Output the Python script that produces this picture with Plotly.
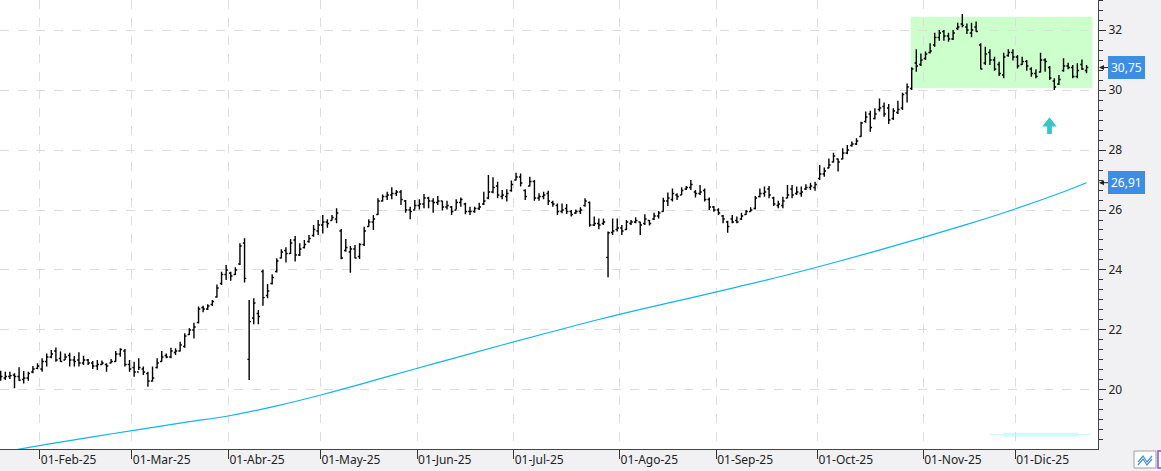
import plotly.graph_objects as go
import pandas as pd

# ---------------- data ----------------
dates = pd.bdate_range("2025-01-21", "2025-12-22", freq="C",
                       holidays=["2025-04-18", "2025-04-21", "2025-05-01"])

opens = [20.55, 20.40, 20.45, 20.50, 20.45, 20.35, 20.40, 20.60, 20.72, 20.70,
         20.95, 21.10, 21.30, 21.05, 21.00, 21.15, 21.00, 21.00, 20.90, 21.00,
         20.90, 20.80, 20.85, 20.85, 20.90, 20.95, 21.20, 21.30, 20.85,
         20.75, 20.60, 20.70, 20.55, 20.30, 20.75, 20.95, 21.15, 21.10, 21.25,
         21.30, 21.45, 21.85, 22.00, 22.25, 22.75, 22.70, 22.85, 23.10, 23.55, 23.85,
         23.90, 23.85, 24.20, 24.90, 21.02, 22.40, 22.55, 23.95, 23.15, 23.55,
         23.95, 24.40, 24.65, 24.55, 25.00, 24.50, 24.75, 24.95, 25.15, 25.30,
         25.50, 25.60, 25.65, 25.70, 25.30, 24.65, 24.60, 24.70, 24.45, 24.85,
         25.45, 25.60, 25.85, 26.30, 26.45, 26.50, 26.55, 26.60, 26.30, 26.00, 26.00,
         26.15, 26.20, 26.40, 26.30, 26.25, 26.30, 26.10, 26.10, 26.00, 26.25,
         26.20, 25.95, 25.95, 26.05, 26.20, 26.40, 26.60, 26.80, 26.45, 26.45, 26.65,
         27.00, 27.10, 26.65, 26.80, 26.95, 26.40, 26.45, 26.55, 26.25, 26.15,
         25.95, 26.05, 25.95, 25.90, 25.95, 26.15, 26.25, 25.50, 25.55, 25.55,
         24.42, 25.25, 25.35,
         25.40, 25.35, 25.55, 25.60, 25.60, 25.55, 25.65, 25.70, 25.80, 25.95,
         26.30, 26.35, 26.50, 26.50, 26.70, 26.75, 26.60, 26.55, 26.65, 26.35, 26.10,
         26.00, 25.80, 25.60, 25.70, 25.65, 25.70, 25.85, 25.95, 26.05, 26.45,
         26.55, 26.70, 26.40, 26.15, 26.15, 26.40, 26.70, 26.55, 26.55, 26.70,
         26.75, 26.75,
         27.05, 27.20, 27.40, 27.60, 27.70, 27.70, 27.90, 28.15, 28.20, 28.45,
         28.95, 29.20, 29.05, 29.35, 29.45, 29.40, 29.05, 29.25, 29.40, 29.90,
         30.05, 30.90, 30.85,
         31.05, 31.25, 31.50, 31.75, 31.95, 31.80, 31.70, 32.05, 32.20, 32.10,
         31.90, 32.10, 31.50, 30.90, 31.25, 31.00, 30.85, 30.50, 31.15, 31.25,
         31.10, 30.85, 30.95, 30.70, 30.55, 30.60, 31.00, 30.75, 30.30, 30.20,
         30.65, 30.80, 30.75, 30.45, 30.85, 30.65]

highs = [20.64, 20.61, 20.61, 20.56, 20.76, 20.63, 20.61, 20.80, 20.89, 21.06,
         21.22, 21.33, 21.42, 21.28, 21.22, 21.24, 21.13, 21.26, 21.14, 21.03,
         20.97, 21.00, 20.98, 20.89, 21.03, 21.30, 21.39, 21.37, 21.00,
         20.94, 21.06, 20.78, 20.61, 20.78, 21.06, 21.30, 21.22, 21.41, 21.39,
         21.61, 21.89, 22.06, 22.24, 22.78, 22.81, 22.86, 23.00, 23.52, 23.94, 24.17,
         23.94, 24.09, 24.89, 25.06, 23.00, 23.06, 22.67, 24.02, 23.53, 23.86,
         24.39, 24.69, 24.76, 25.03, 25.13, 24.89, 25.00, 25.17, 25.50, 25.67,
         25.83, 25.69, 25.83, 26.06, 25.37, 25.03, 24.80, 24.83, 24.89, 25.44,
         25.69, 25.83, 26.39, 26.52, 26.61, 26.76, 26.67, 26.67, 26.33, 26.11, 26.33,
         26.36, 26.53, 26.44, 26.39, 26.47, 26.31, 26.31, 26.13, 26.36, 26.42,
         26.24, 26.11, 26.11, 26.24, 26.61, 27.17, 27.09, 26.94, 26.67, 26.69, 26.98,
         27.24, 27.22, 26.69, 27.11, 27.00, 26.56, 26.61, 26.64, 26.31, 26.22,
         26.22, 26.20, 26.00, 26.02, 26.09, 26.39, 26.28, 25.78, 25.72, 25.72,
         25.28, 25.72, 25.72,
         25.50, 25.67, 25.67, 25.76, 25.61, 25.86, 25.67, 25.91, 25.97, 26.41,
         26.58, 26.72, 26.56, 26.76, 26.80, 27.00, 26.67, 26.83, 26.72, 26.42, 26.13,
         26.06, 25.83, 25.64, 25.83, 25.78, 25.91, 26.00, 26.09, 26.47, 26.72,
         26.78, 26.80, 26.44, 26.31, 26.44, 26.83, 26.83, 26.78, 26.78, 26.86,
         26.91, 26.94,
         27.50, 27.42, 27.72, 27.91, 27.72, 28.06, 28.17, 28.28, 28.39, 28.94,
         29.28, 29.31, 29.39, 29.72, 29.58, 29.53, 29.39, 29.64, 29.91, 30.22,
         30.76, 31.36, 31.22,
         31.28, 31.56, 31.91, 32.00, 32.00, 31.91, 32.00, 32.24, 32.53, 32.22,
         32.24, 32.28, 31.56, 31.44, 31.36, 31.11, 30.94, 31.24, 31.36, 31.36,
         31.17, 31.11, 31.00, 30.76, 30.69, 31.24, 31.06, 30.80, 30.39, 30.50,
         31.06, 30.91, 30.83, 30.89, 31.02, 30.83]

lows = [20.31, 20.33, 20.37, 20.06, 20.30, 20.22, 20.31, 20.56, 20.69, 20.61,
        20.78, 21.06, 20.94, 20.94, 21.00, 20.78, 20.78, 20.78, 20.83, 20.83,
        20.70, 20.67, 20.83, 20.61, 20.89, 20.94, 21.11, 20.78, 20.61,
        20.44, 20.67, 20.50, 20.11, 20.28, 20.72, 20.94, 21.06, 21.06, 21.17,
        21.28, 21.41, 21.83, 21.72, 22.22, 22.59, 22.67, 22.80, 23.08, 23.50, 23.67,
        23.64, 23.83, 24.17, 23.58, 20.33, 22.19, 22.19, 22.81, 23.06, 23.52,
        23.92, 24.39, 24.25, 24.53, 24.28, 24.47, 24.72, 24.91, 25.11, 25.17,
        25.22, 25.41, 25.64, 25.56, 24.36, 24.61, 23.91, 24.39, 24.37, 24.80,
        25.44, 25.33, 25.83, 26.28, 26.33, 26.36, 26.47, 26.17, 25.91, 25.69, 26.02,
        26.02, 26.06, 26.06, 25.91, 26.17, 25.98, 26.02, 25.83, 26.02, 26.11,
        25.86, 25.83, 25.91, 26.00, 26.17, 26.36, 26.56, 26.39, 26.36, 26.28, 26.61,
        26.98, 26.78, 26.33, 26.78, 26.31, 26.31, 26.36, 26.17, 26.11, 25.83,
        25.89, 25.87, 25.78, 25.87, 25.87, 26.11, 25.44, 25.47, 25.36, 25.50,
        23.76, 25.17, 25.28,
        25.17, 25.33, 25.50, 25.56, 25.17, 25.50, 25.48, 25.67, 25.72, 25.94,
        26.13, 26.28, 26.33, 26.50, 26.67, 26.67, 26.42, 26.50, 26.28, 26.00, 25.94,
        25.83, 25.56, 25.24, 25.56, 25.56, 25.67, 25.83, 25.94, 26.02, 26.42,
        26.44, 26.39, 26.13, 26.06, 26.06, 26.39, 26.39, 26.50, 26.44, 26.67,
        26.67, 26.64,
        27.00, 27.11, 27.39, 27.58, 27.28, 27.69, 27.86, 28.11, 28.17, 28.44,
        28.91, 28.61, 29.02, 29.28, 29.11, 28.87, 29.00, 29.20, 29.33, 29.58,
        30.00, 30.61, 30.80,
        31.00, 31.22, 31.44, 31.64, 31.64, 31.61, 31.67, 32.00, 32.09, 31.87,
        31.76, 31.94, 30.69, 30.83, 30.83, 30.64, 30.47, 30.39, 31.11, 30.98,
        30.72, 30.83, 30.64, 30.44, 30.39, 30.58, 30.61, 30.33, 30.00, 30.17,
        30.61, 30.69, 30.39, 30.39, 30.67, 30.56]

closes = [20.45, 20.45, 20.48, 20.45, 20.33, 20.40, 20.55, 20.70, 20.80, 20.95,
          21.10, 21.20, 21.00, 20.95, 21.10, 21.00, 20.95, 20.90, 21.00, 20.90,
          20.80, 20.85, 20.90, 20.80, 20.95, 21.20, 21.35, 20.85, 20.70,
          20.60, 20.75, 20.60, 20.30, 20.40, 20.90, 21.10, 21.10, 21.30, 21.30,
          21.50, 21.80, 22.00, 22.10, 22.70, 22.70, 22.80, 22.95, 23.40, 23.85, 24.00,
          23.80, 24.00, 24.80, 23.72, 22.28, 22.90, 22.45, 23.08, 23.30, 23.75,
          24.30, 24.60, 24.55, 24.90, 24.50, 24.70, 24.85, 25.05, 25.35, 25.50,
          25.60, 25.55, 25.75, 25.90, 24.40, 24.75, 24.70, 24.40, 24.85, 25.30,
          25.60, 25.70, 26.30, 26.45, 26.50, 26.55, 26.60, 26.35, 26.00, 25.95, 26.15,
          26.20, 26.40, 26.30, 26.25, 26.30, 26.10, 26.15, 25.95, 26.25, 26.35,
          25.95, 25.95, 26.05, 26.10, 26.30, 26.60, 26.75, 26.50, 26.50, 26.55, 26.85,
          27.10, 26.90, 26.45, 26.95, 26.40, 26.45, 26.50, 26.30, 26.20, 25.95,
          26.00, 25.95, 25.85, 25.95, 26.00, 26.30, 25.50, 25.55, 25.50, 25.60,
          25.24, 25.30, 25.40,
          25.30, 25.60, 25.60, 25.65, 25.50, 25.70, 25.55, 25.80, 25.90, 26.30,
          26.40, 26.55, 26.45, 26.65, 26.75, 26.85, 26.55, 26.60, 26.35, 26.10, 26.00,
          25.90, 25.70, 25.45, 25.60, 25.60, 25.80, 25.95, 26.00, 26.40, 26.55,
          26.60, 26.50, 26.20, 26.20, 26.30, 26.50, 26.50, 26.60, 26.60, 26.75,
          26.80, 26.85,
          27.20, 27.30, 27.50, 27.80, 27.60, 27.90, 28.00, 28.20, 28.30, 28.90,
          29.10, 28.75, 29.20, 29.40, 29.20, 29.00, 29.30, 29.35, 29.85, 30.10,
          30.70, 30.80, 31.00,
          31.20, 31.30, 31.75, 31.90, 31.80, 31.70, 31.90, 32.10, 32.15, 32.00,
          32.00, 31.95, 30.70, 31.20, 31.00, 30.70, 30.55, 31.10, 31.25, 31.10,
          30.80, 30.95, 30.80, 30.55, 30.45, 31.00, 30.95, 30.40, 30.10, 30.35,
          30.80, 30.75, 30.45, 30.65, 30.70, 30.75]

# 200-session moving average, read at every 10th session
ma_idx = [0, 10, 20, 30, 40, 50, 60, 70, 80, 90, 100, 110, 120, 130, 140,
          150, 160, 170, 180, 190, 200, 210, 220, 230, 236]
ma_val = [17.92, 18.19, 18.44, 18.68, 18.92, 19.15, 19.47, 19.85, 20.27, 20.70,
          21.12, 21.54, 21.95, 22.35, 22.72, 23.07, 23.43, 23.80, 24.20, 24.62,
          25.06, 25.52, 26.01, 26.55, 26.91]

tick_months = [2, 3, 4, 5, 6, 7, 8, 9, 10, 11, 12]
tick_labels = ["01-Feb-25", "01-Mar-25", "01-Abr-25", "01-May-25", "01-Jun-25",
               "01-Jul-25", "01-Ago-25", "01-Sep-25", "01-Oct-25", "01-Nov-25",
               "01-Dic-25"]

# ---------------- figure ----------------
x = list(range(len(dates)))
months = list(dates.month)
tick_vals = [months.index(m) - 0.5 for m in tick_months]

W, H = 1161, 471
ML, MR, MT, MB = 0, 63, 0, 22
PW, PH = W - ML - MR, H - MT - MB


def fx(px):
    return (px - ML) / PW


def fy(py):
    return 1 - (py - MT) / PH


fig = go.Figure()

fig.add_trace(go.Ohlc(
    x=x, open=opens, high=highs, low=lows, close=closes,
    increasing=dict(line=dict(color="#000000", width=1.4)),
    decreasing=dict(line=dict(color="#000000", width=1.4)),
    tickwidth=0.38, showlegend=False, hoverinfo="skip"))

fig.add_trace(go.Scatter(
    x=ma_idx, y=ma_val, mode="lines",
    line=dict(color="#10b4f0", width=1.2, shape="spline"),
    showlegend=False, hoverinfo="skip"))

shapes = []
# green consolidation box
shapes.append(dict(type="rect", xref="x", yref="y", x0=197.8, x1=237.3,
                   y0=30.07, y1=32.44, fillcolor="#ccffcc",
                   line=dict(width=0), layer="below"))
# faint cyan band near the bottom
shapes.append(dict(type="rect", xref="paper", yref="paper",
                   x0=fx(990), x1=fx(1091), y0=fy(435.3), y1=fy(433.9),
                   fillcolor="#ccfbff", line=dict(width=0), layer="below"))
shapes.append(dict(type="rect", xref="paper", yref="paper",
                   x0=fx(1003), x1=fx(1078), y0=fy(436.5), y1=fy(432.8),
                   fillcolor="#ccfbff", line=dict(width=0), layer="below"))
# turquoise up arrow
shapes.append(dict(type="path", xref="x", yref="y",
                   xsizemode="pixel", ysizemode="pixel",
                   xanchor=227.95, yanchor=28.78,
                   path="M -7.2,0 L 0,9.4 L 7.2,0 L 2.4,0 L 2.4,-7.3 L -2.4,-7.3 L -2.4,0 Z",
                   fillcolor="#39c6c6", line=dict(width=0), layer="above"))
# small toolbar icons bottom right
shapes.append(dict(type="rect", xref="paper", yref="paper",
                   x0=fx(1134), x1=fx(1156), y0=fy(468), y1=fy(451),
                   fillcolor="#ffffff", line=dict(color="#a0a0a0", width=1)))
shapes.append(dict(type="path", xref="paper", yref="paper",
                   path="M {},{} L {},{} L {},{} L {},{}".format(
                       fx(1138), fy(462), fx(1143), fy(456), fx(1147), fy(462), fx(1152), fy(456)),
                   line=dict(color="#4a90d9", width=1.2)))
shapes.append(dict(type="path", xref="paper", yref="paper",
                   path="M {},{} L {},{} L {},{} L {},{}".format(
                       fx(1138), fy(465), fx(1143), fy(459), fx(1147), fy(465), fx(1152), fy(459)),
                   line=dict(color="#4a90d9", width=1.2)))
shapes.append(dict(type="rect", xref="paper", yref="paper",
                   x0=fx(1158), x1=fx(1175), y0=fy(468), y1=fy(451),
                   fillcolor="#ffffff", line=dict(color="#8a4fd0", width=1.5)))

annotations = []
for val in [closes[-1], ma_val[-1]]:
    annotations.append(dict(
        x=1, xref="paper", y=val, yref="y",
        text=("%.2f" % val).replace(".", ","),
        showarrow=True, ax=10, ay=0, xanchor="left",
        arrowhead=2, arrowsize=1, arrowwidth=1, arrowcolor="#222222",
        standoff=1,
        bgcolor="#3b8ee4", bordercolor="#3b8ee4", borderpad=2,
        font=dict(family="Noto Sans", size=12, color="#ffffff")))

fig.update_layout(
    width=W, height=H,
    margin=dict(l=ML, r=MR, t=MT, b=MB, pad=0),
    paper_bgcolor="#f1f1f3", plot_bgcolor="#ffffff",
    font=dict(family="Noto Sans", size=12, color="#222222"),
    shapes=shapes, annotations=annotations,
    showlegend=False,
    xaxis=dict(
        range=[-0.152, 238.49], tickmode="array", tickvals=tick_vals,
        ticktext=tick_labels, ticks="outside", ticklen=9, tickcolor="#333333",
        ticklabelposition="outside right",
        showgrid=True, gridcolor="#dddddd", griddash="dash", gridwidth=1,
        showline=True, linecolor="#444444", linewidth=1, zeroline=False,
        rangeslider=dict(visible=False), fixedrange=True,
        tickfont=dict(size=12, color="#222222")),
    yaxis=dict(
        side="right", range=[18.033, 33], tick0=0, dtick=2,
        ticks="outside", ticklen=7, tickcolor="#333333",
        minor=dict(dtick=1/3, ticks="outside", ticklen=4, tickcolor="#333333",
                   showgrid=False),
        showgrid=True, gridcolor="#dddddd", griddash="dash", gridwidth=1,
        showline=True, linecolor="#444444", linewidth=1, zeroline=False,
        fixedrange=True, tickfont=dict(size=12, color="#222222")),
)

fig.write_html("out.html")
